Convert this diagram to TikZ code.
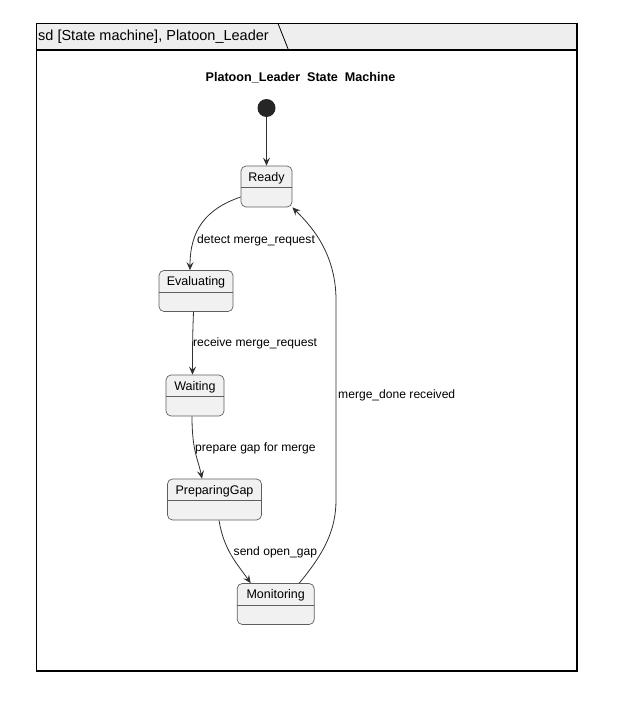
\documentclass[tikz,border=0pt]{standalone}
\usepackage{fontspec}
\setmainfont{Liberation Sans}
\usetikzlibrary{arrows.meta}
\definecolor{statefill}{HTML}{F1F1F1}
\definecolor{stateline}{HTML}{5E5E5E}
\definecolor{headfill}{HTML}{EEEEEE}
\definecolor{edgecol}{HTML}{303030}
\begin{document}
\begin{tikzpicture}[x=1pt,y=-1pt,
  stbox/.style={draw=stateline, fill=statefill, rounded corners=5pt, line width=0.7pt,
    minimum height=41pt, inner xsep=0pt, inner ysep=0pt, text height=15pt, text depth=26pt,
    font=\fontsize{12.5}{14}\selectfont,
    path picture={\draw[stateline, line width=0.7pt]
      ([yshift=-21.5pt]path picture bounding box.north west) --
      ([yshift=-21.5pt]path picture bounding box.north east);}},
  trans/.style={draw=edgecol, line width=0.8pt, -{Stealth[length=8pt,width=7pt,inset=3pt]}},
  lbl/.style={anchor=west, inner sep=0pt, font=\fontsize{12.1}{14}\selectfont}
]
\useasboundingbox (0,0) rectangle (640,706);
% frame
\path[fill=headfill] (36.5,23.5) rectangle (577,50);
\draw[line width=1.2pt] (36.5,50) -- (577,50);
\draw[line width=0.8pt] (278,23.5) -- (288.5,50);
\draw[line width=1.1pt] (36.5,23.5) rectangle (577,671);
\node[anchor=west, inner sep=0pt, font=\fontsize{14.5}{16}\selectfont] (frametitle) at (38,37) {sd [State machine], Platoon\_Leader};
\node[inner sep=0pt, font=\bfseries\fontsize{12.6}{14}\selectfont] (title) at (300.5,78) {Platoon\_Leader\ \ State\ \ Machine};
% initial
\node[circle, fill=black!85, minimum size=18pt, inner sep=0pt] (init) at (266.5,108) {};
% states
\node[stbox, minimum width=51pt] (ready) at (266.5,186.5) {Ready};
\node[stbox, minimum width=74pt] (eval) at (196,291) {Evaluating};
\node[stbox, minimum width=58pt] (wait) at (195,395.5) {Waiting};
\node[stbox, minimum width=94pt] (prep) at (214.5,499.5) {PreparingGap};
\node[stbox, minimum width=77pt] (mon) at (275.7,604) {Monitoring};
% transitions
\draw[trans] (init) -- (ready.north);
\draw[trans] ([yshift=-10.5pt]ready.west) .. controls +(-35,12) and +(0,-40) .. ([xshift=-6pt]eval.north);
\draw[trans] ([xshift=-2.5pt]eval.south) .. controls +(-1,25) and +(0,-25) .. ([xshift=-2.5pt]wait.north);
\draw[trans] ([xshift=-3pt]wait.south) .. controls +(0,35) and +(-4,-20) .. ([xshift=-12.5pt]prep.north);
\draw[trans] ([xshift=4.5pt]prep.south) .. controls +(5,30) and +(-14,-20) .. ([xshift=-25pt]mon.north);
\coordinate (up1) at (336,500);
\coordinate (up2) at (336,300);
\draw[trans] ([xshift=23.5pt]mon.north) .. controls +(25,-30) and +(0,30) .. (up1) -- (up2) .. controls +(0,-50) and +(15,15) .. (ready.south east);
% labels
\node[lbl] (l1) at (197,240) {detect merge\_request};
\node[lbl] (l2) at (193,343) {receive merge\_request};
\node[lbl] (l3) at (195,448) {prepare gap for merge};
\node[lbl] (l4) at (233.5,552) {send open\_gap};
\node[lbl] (l5) at (338,395) {merge\_done received};
\end{tikzpicture}
\end{document}
